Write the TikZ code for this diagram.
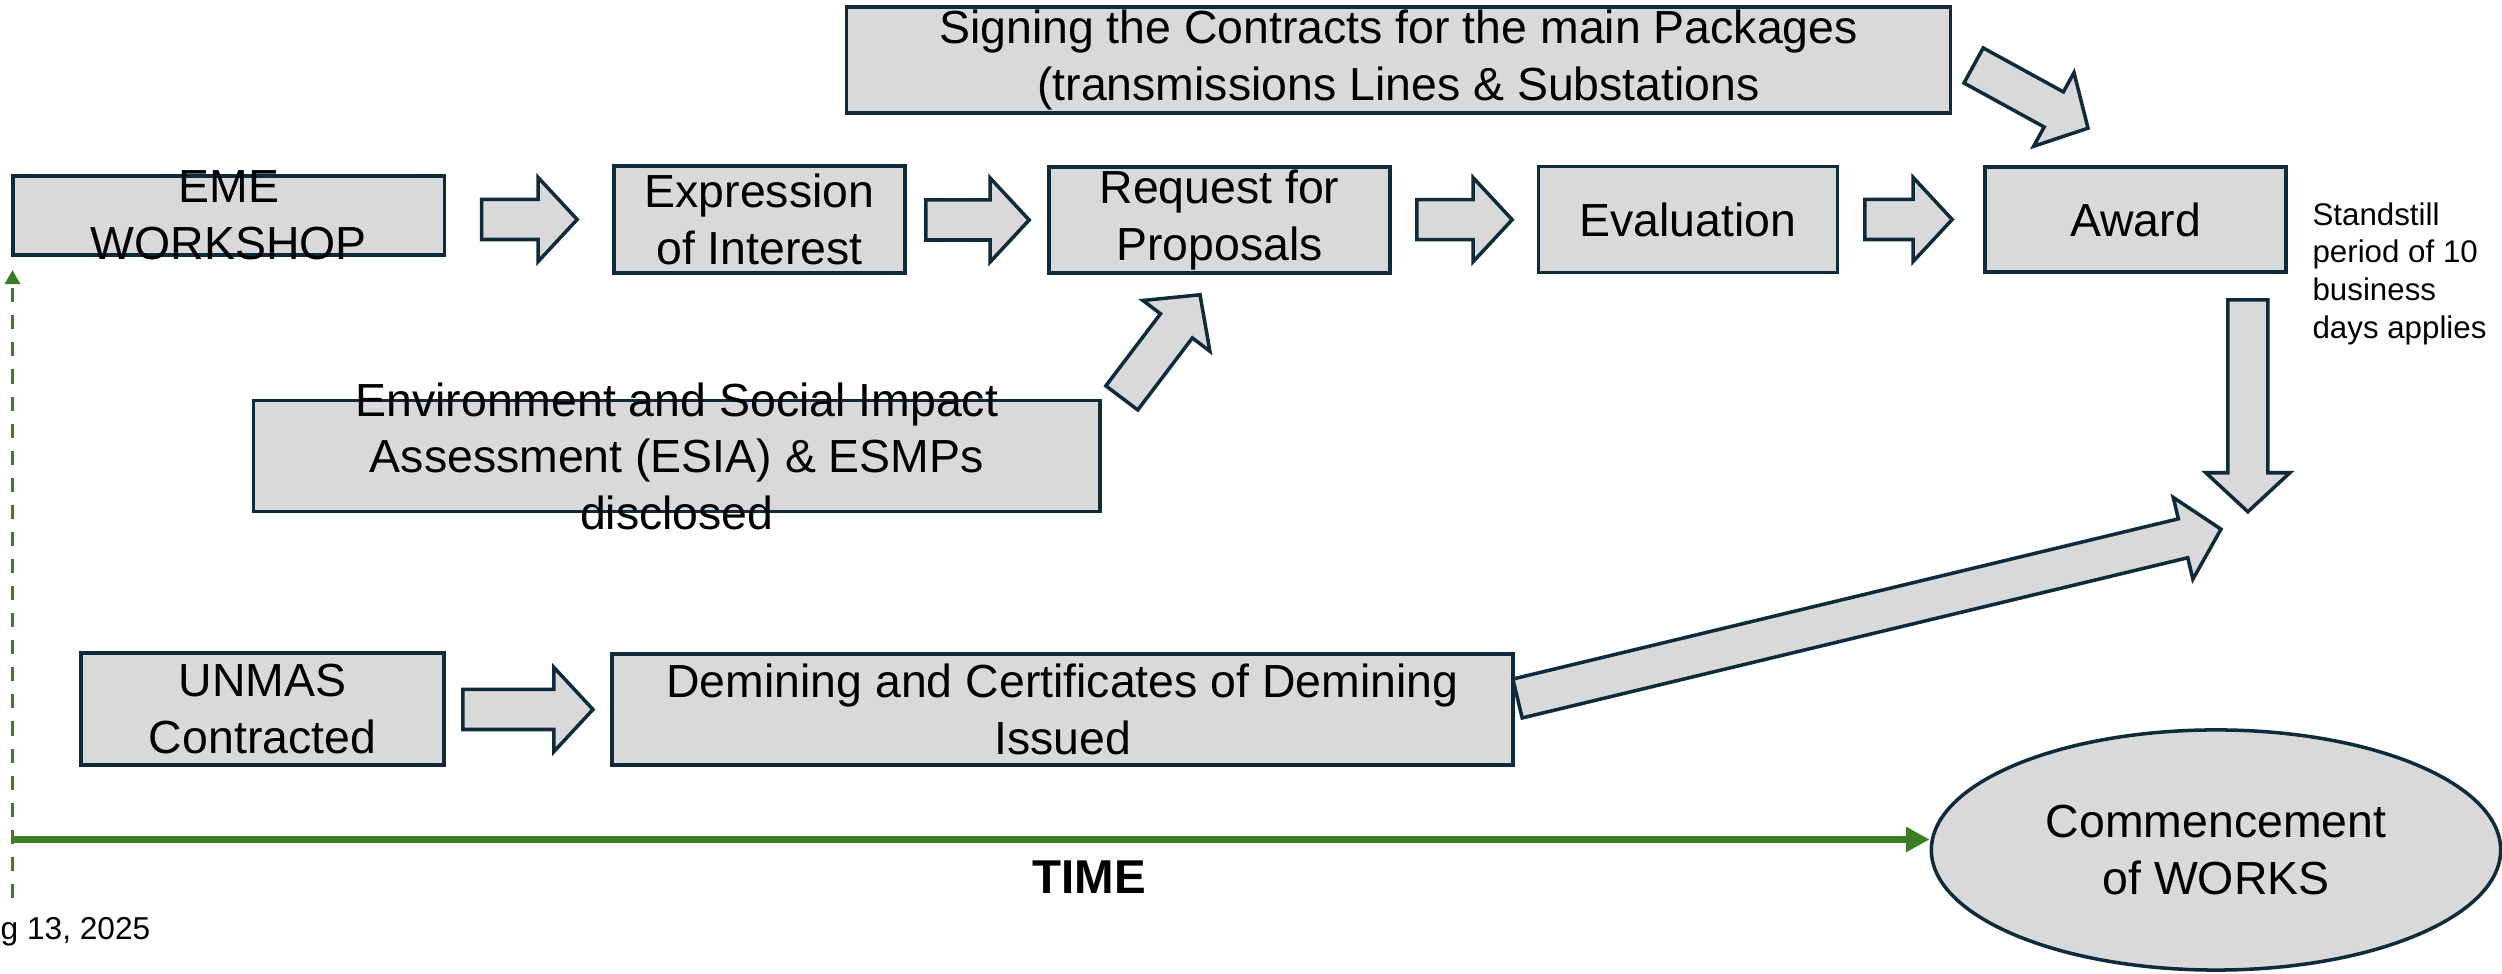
\documentclass[tikz,border=0pt]{standalone}
\usepackage{fontspec}
\setmainfont{Liberation Sans}
\usetikzlibrary{calc, arrows.meta, shapes.geometric}

\definecolor{stagefill}{HTML}{D9D9D9}
\definecolor{stageline}{HTML}{0E2A3B}
\definecolor{timegreen}{HTML}{3B7D23}

\newcommand{\shaftw}{0.2cm}
\newcommand{\headw}{0.42cm}
\newcommand{\headlen}{0.39cm}
\newcommand{\blockarrow}[2]{%
  \coordinate (hb) at ($(#2)!\headlen!(#1)$);
  \draw [arrowbox] ($(#1)!\shaftw!90:(#2)$) to ($(hb)!\shaftw!90:(#2)$)
    to ($(hb)!\headw!90:(#2)$) to (#2) to ($(hb)!\headw!-90:(#2)$)
    to ($(hb)!\shaftw!-90:(#2)$) to ($(#1)!\shaftw!-90:(#2)$) -- cycle;
}

\tikzset{
  stage/.style={draw=stageline, fill=stagefill, line width=1pt, inner sep=0pt},
  stagetext/.style={align=center, inner sep=0pt, font=\fontsize{13.2}{16.1}\selectfont},
  arrowbox/.style={draw=stageline, fill=stagefill, line width=1pt},
  timeline/.style={color=timegreen, line width=2.1pt, -{Triangle[length=6.7pt, width=6.8pt]}},
}

\begin{document}
\begin{tikzpicture}[x=0.01cm, y=0.01cm]
    \useasboundingbox (0, 0) rectangle (2502, -974);

    \node [stage, minimum width=4.31cm, minimum height=0.79cm] (eme) at (228.7, -215.5) {};
    \node [stage, minimum width=2.91cm, minimum height=1.07cm] (eoi) at (759.5, -219.5) {};
    \node [stage, minimum width=3.41cm, minimum height=1.06cm] (rfp) at (1219.5, -220) {};
    \node [stage, minimum width=2.99cm, minimum height=1.06cm] (eval) at (1688, -219.7) {};
    \node [stage, minimum width=3.01cm, minimum height=1.05cm] (award) at (2135.5, -219.5) {};
    \node [stage, minimum width=11.03cm, minimum height=1.06cm] (sign) at (1398.5, -60) {};
    \node [stage, minimum width=8.46cm, minimum height=1.11cm] (esia) at (676.8, -456.2) {};
    \node [stage, minimum width=3.63cm, minimum height=1.12cm] (unmas) at (262.5, -709) {};
    \node [stage, minimum width=9cm, minimum height=1.11cm] (demine) at (1062.5, -709.5) {};
    \node [stage, ellipse, minimum width=5.69cm, minimum height=2.4cm] (works) at (2216, -850) {};

    \foreach \nm/\txt in {eme/{EME\\WORKSHOP}, eoi/{Expression\\of Interest},
      rfp/{Request for\\Proposals}, eval/Evaluation, award/Award,
      sign/{Signing the Contracts for the main Packages\\(transmissions Lines \& Substations},
      esia/{Environment and Social Impact\\Assessment (ESIA) \& ESMPs\\disclosed},
      unmas/{UNMAS\\Contracted}, demine/{Demining and Certificates of Demining\\Issued},
      works/{Commencement\\of WORKS}}
    {
      \node [stagetext] (\nm-t) at (\nm) {\txt};
    }

    \foreach \src/\dst/\gapa/\gapb in {eme/eoi/35.5/35, eoi/rfp/19/18, rfp/eval/25/24.5,
      eval/award/25.6/31, unmas/demine/17/17.5}
    {
      \coordinate (s) at ($(\src.east |- \dst.west) + (\gapa, 0)$);
      \coordinate (e) at ($(\dst.west) + (-\gapb, 0)$);
      \blockarrow{s}{e}
    }

    \coordinate (esia-s) at ($(esia.north east) + (20, 1)$);
    \coordinate (esia-e) at ($(rfp.south) + (-19.5, -20)$);
    \blockarrow{esia-s}{esia-e}
    \coordinate (sign-s) at ($(sign.east) + (21.5, -5.5)$);
    \coordinate (sign-e) at ($(award.north) + (-47.5, 37)$);
    \blockarrow{sign-s}{sign-e}
    \coordinate (award-s) at ($(award.south east) + (-40, -26)$);
    \coordinate (award-e) at ($(award-s) + (0, -212)$);
    \blockarrow{award-s}{award-e}
    \coordinate (demine-s) at ($(demine.east) + (3, 11)$);
    \coordinate (demine-e) at ($(works.north) + (5, 199)$);
    \blockarrow{demine-s}{demine-e}

    \coordinate (t0) at (12.5, -839.5);
    \draw [timeline] (t0) to (t0 -| works.west);
    \coordinate (d0) at (12.5, -898);
    \coordinate (d1) at (12.5, -270);
    \draw [color=timegreen, line width=1pt, dash pattern=on 4pt off 3.7pt,
      -{Triangle[length=4pt, width=4.2pt]}] (d0) to (d1);

    \node [anchor=base, inner sep=0pt, font=\bfseries\fontsize{13.5}{16}\selectfont] (time) at (1089, -893.3) {TIME};
    \node [anchor=base west, inner sep=0pt, font=\fontsize{9}{11}\selectfont] (date) at (0, -940) {g 13, 2025};
    \node [anchor=west, align=left, inner sep=0pt, font=\fontsize{8.9}{10.7}\selectfont] (standstill)
      at ($(award.east) + (24, -54)$) {Standstill\\period of 10\\business\\days applies};
\end{tikzpicture}
\end{document}
